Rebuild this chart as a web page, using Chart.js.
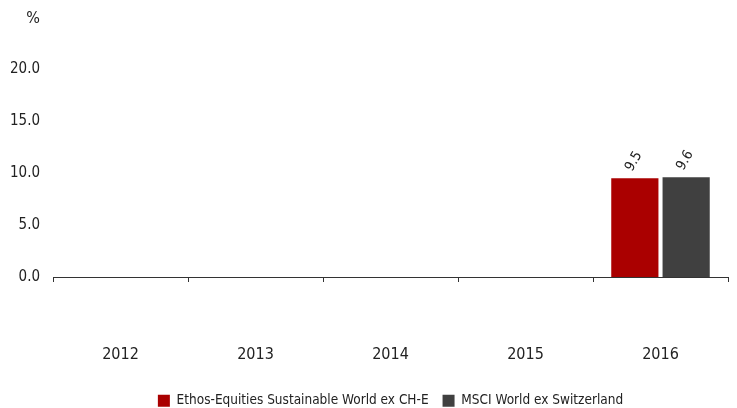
<!DOCTYPE html>
<html>
<head>
<meta charset="utf-8">
<script src="https://cdn.jsdelivr.net/npm/chart.js@4"></script>
<style>
  html, body { margin: 0; padding: 0; background: #fff; }
  #wrap { width: 737px; height: 408px; }
</style>
</head>
<body>
<div id="wrap"><canvas id="chart" width="737" height="408"></canvas></div>
<script>
const years = ["2012", "2013", "2014", "2015", "2016"];
const ethosValues = [null, null, null, null, 9.5];
const msciValues = [null, null, null, null, 9.6];
const seriesNames = ["Ethos-Equities Sustainable World ex CH-E", "MSCI World ex Switzerland"];
const yTicks = [0, 5, 10, 15, 20];

const FONT = "'DejaVu Sans Condensed', sans-serif";
Chart.defaults.font.family = FONT;
Chart.defaults.color = "#222";

/** rotated value labels above bars */
const valueLabels = {
  id: "valueLabels",
  afterDatasetsDraw(chart) {
    const ctx = chart.ctx;
    ctx.save();
    ctx.font = "14px " + FONT;
    ctx.fillStyle = "#222";
    ctx.textAlign = "left";
    ctx.textBaseline = "middle";
    chart.data.datasets.forEach((ds, i) => {
      chart.getDatasetMeta(i).data.forEach((bar, j) => {
        const v = ds.data[j];
        if (v === null || v === undefined) return;
        ctx.save();
        ctx.translate(bar.x - 6, bar.y - 8);
        ctx.rotate(-Math.PI / 3);
        ctx.fillText(v.toFixed(1), 0, 0);
        ctx.restore();
      });
    });
    ctx.restore();
  }
};

/** "%" unit label at top left */
const unitLabel = {
  id: "unitLabel",
  afterDraw(chart) {
    const ctx = chart.ctx;
    ctx.save();
    ctx.font = "16px " + FONT;
    ctx.fillStyle = "#222";
    ctx.textAlign = "right";
    ctx.textBaseline = "middle";
    ctx.fillText("%", 40, 19);
    ctx.restore();
  }
};

new Chart(document.getElementById("chart"), {
  type: "bar",
  data: {
    labels: years,
    datasets: [
      { label: seriesNames[0], data: ethosValues, backgroundColor: "#aa0000" },
      { label: seriesNames[1], data: msciValues, backgroundColor: "#404040" }
    ]
  },
  options: {
    responsive: false,
    animation: false,
    layout: { padding: { top: 69, right: 9, left: 0, bottom: -9.5 } },
    datasets: { bar: { categoryPercentage: 0.76, barPercentage: 0.92 } },
    scales: {
      x: {
        afterFit: axis => { axis.height = 103; axis.paddingLeft = 0; axis.paddingRight = 0; },
        grid: { offset: true, drawOnChartArea: false, drawTicks: true, tickLength: 5, color: "#333", lineWidth: 1 },
        border: { display: true, color: "#333", width: 1 },
        ticks: { padding: 63, font: { size: 16 }, color: "#222" }
      },
      y: {
        min: 0,
        max: 20,
        afterFit: axis => { axis.width = 53; },
        afterBuildTicks: axis => { axis.ticks = yTicks.map(v => ({ value: v })); },
        grid: { display: false, drawTicks: false },
        border: { display: false },
        ticks: { padding: 13, font: { size: 15 }, color: "#222", callback: v => v.toFixed(1) }
      }
    },
    plugins: {
      legend: {
        position: "bottom",
        fullSize: false,
        labels: { boxWidth: 12, boxHeight: 12, padding: 14, font: { size: 13.5 }, color: "#222" }
      },
      tooltip: { enabled: false }
    }
  },
  plugins: [valueLabels, unitLabel]
});
</script>
</body>
</html>
